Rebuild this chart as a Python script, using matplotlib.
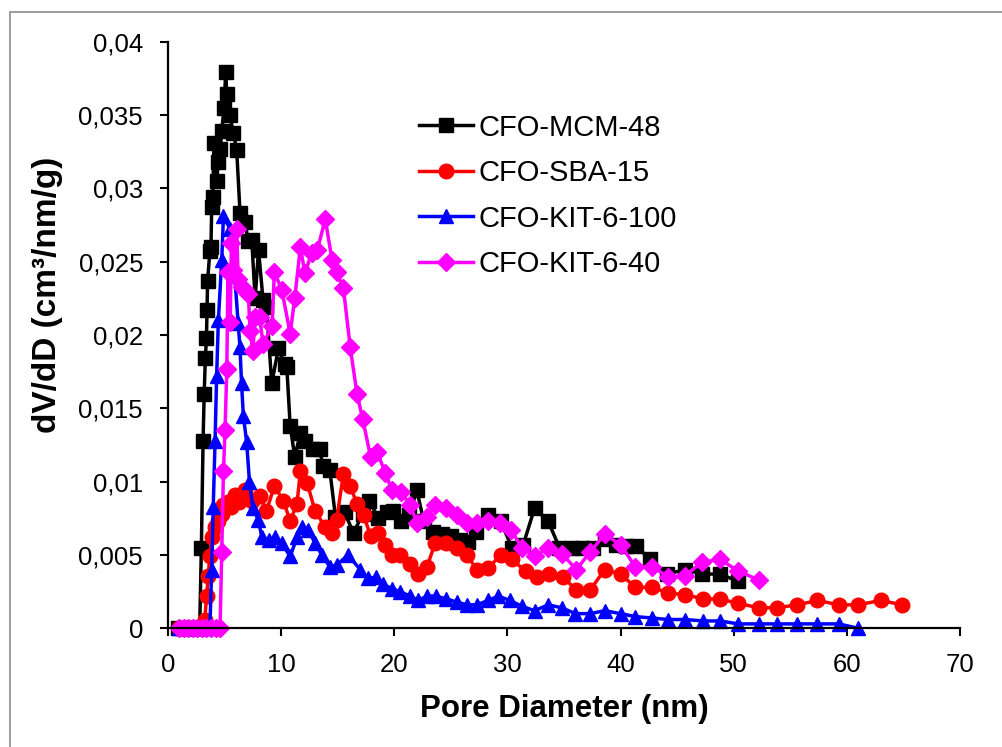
import matplotlib
matplotlib.use("Agg")
import matplotlib.pyplot as plt
from matplotlib.patches import Rectangle
from matplotlib.ticker import FuncFormatter

plt.rcParams['font.family'] = ['Liberation Sans', 'DejaVu Sans']

# ---------------- data ----------------
mcm_x = [0.9, 1.3, 1.7, 2.1, 2.5, 2.8, 2.95, 3.1, 3.2, 3.3, 3.4, 3.45, 3.5, 3.7, 3.8,
         3.86, 3.95, 4.07, 4.3, 4.45, 4.6, 4.75, 4.95, 5.1, 5.2, 5.45, 5.78, 6.07,
         6.37, 6.8, 7.1, 7.4, 7.7, 8.0, 8.4, 8.7, 9.17, 9.76, 10.3, 10.5, 10.8, 11.2,
         11.7, 12.1, 12.8, 13.4, 13.7, 14.3, 14.8, 15.6, 16.4, 17.2, 17.8, 18.6, 19.4,
         19.9, 20.6, 21.3, 22.0, 22.6, 23.4, 24.2, 25.0, 25.8, 26.5, 27.2, 28.3, 29.4,
         30.4, 31.4, 32.4, 33.6, 34.6, 35.6, 36.6, 37.6, 38.6, 39.6, 40.5, 41.4, 42.6,
         44.1, 45.7, 47.2, 48.8, 50.4]
mcm_y = [0, 0, 0, 0, 0, 0, 0.0055, 0.0128, 0.016, 0.0184, 0.0198, 0.0217, 0.0237, 0.0257, 0.026,
         0.0287, 0.0294, 0.0331, 0.0305, 0.0318, 0.0327, 0.0339, 0.0355, 0.0379, 0.0364, 0.035, 0.0338, 0.0326,
         0.0283, 0.0277, 0.0264, 0.0265, 0.0225, 0.0258, 0.0224, 0.0219, 0.0167, 0.0191, 0.018, 0.0178, 0.0138, 0.0117,
         0.0133, 0.0128, 0.0122, 0.0122, 0.0111, 0.0108, 0.0076, 0.0079, 0.0065, 0.0078, 0.0087, 0.0075, 0.0079,
         0.008, 0.0073, 0.0077, 0.0094, 0.0073, 0.0066, 0.0064, 0.0063, 0.006, 0.0059, 0.0066, 0.0077, 0.0073,
         0.0055, 0.0057, 0.0082, 0.0073, 0.0055, 0.0055, 0.0055, 0.0055, 0.0061, 0.0057, 0.0056, 0.0056, 0.0047,
         0.0037, 0.004, 0.0037, 0.0037, 0.0032]

sba_x = [1.0, 1.4, 1.8, 2.2, 2.6, 3.0, 3.25, 3.42, 3.55, 3.7, 3.86, 4.16, 4.45, 4.75, 4.9, 5.3,
         5.6, 5.9, 6.3, 6.8, 7.4, 8.1, 8.7, 9.4, 10.2, 10.8, 11.4, 11.7, 12.3, 13.0, 13.9,
         14.5, 14.9, 15.5, 16.1, 16.7, 17.3, 17.9, 18.6, 19.2, 19.8, 20.5, 21.4, 22.1, 22.9,
         23.6, 24.6, 25.5, 26.4, 27.3, 28.3, 29.4, 30.4, 31.6, 32.6, 33.7, 34.9, 36.1, 37.3,
         38.6, 40.0, 41.3, 42.8, 44.2, 45.7, 47.3, 48.8, 50.4, 52.2, 53.8, 55.6, 57.4, 59.3,
         61.0, 63.0, 64.9]
sba_y = [0, 0, 0, 0, 0, 0, 0.0006, 0.0022, 0.0036, 0.0049, 0.0062, 0.0069, 0.0073, 0.0078, 0.0084, 0.0086,
         0.0083, 0.0091, 0.0086, 0.0094, 0.0087, 0.009, 0.008, 0.0097, 0.0087, 0.0073, 0.0085, 0.0107, 0.0099, 0.008, 0.0069,
         0.0065, 0.0074, 0.0105, 0.0097, 0.0085, 0.0077, 0.0063, 0.0065, 0.0057, 0.005, 0.005, 0.0044, 0.0037, 0.0042,
         0.0058, 0.0058, 0.0055, 0.005, 0.004, 0.0041, 0.005, 0.0047, 0.0039, 0.0035, 0.0037, 0.0035, 0.0026, 0.0026,
         0.004, 0.0037, 0.0028, 0.0028, 0.0024, 0.0023, 0.002, 0.002, 0.0017, 0.0014, 0.0014, 0.0016, 0.0019, 0.0016,
         0.0016, 0.0019, 0.0016]

kit100_x = [1.0, 1.4, 1.8, 2.2, 2.6, 3.0, 3.4, 3.7, 3.86, 4.0, 4.16, 4.3, 4.45, 4.75, 4.9, 5.5,
            5.9, 6.2, 6.36, 6.5, 6.66, 6.95, 7.2, 7.5, 7.98, 8.3, 8.9, 9.5, 10.05, 10.8, 11.4,
            11.8, 12.4, 13.0, 13.6, 14.3, 14.9, 15.9, 17.0, 17.7, 18.4, 19.0, 19.8, 20.5, 21.4,
            22.1, 22.9, 23.7, 24.6, 25.5, 26.4, 27.3, 28.3, 29.2, 30.2, 31.3, 32.4, 33.6, 34.8,
            36.0, 37.3, 38.6, 40.0, 41.3, 42.8, 44.2, 45.7, 47.3, 48.8, 50.4, 52.2, 53.8, 55.6,
            57.4, 59.3, 61.0]
kit100_y = [0, 0, 0, 0, 0, 0, 0, 0, 0.004, 0.0083, 0.0128, 0.0172, 0.021, 0.0251, 0.0281, 0.0272,
            0.024, 0.0208, 0.0192, 0.0167, 0.0145, 0.0127, 0.01, 0.0082, 0.0074, 0.0062, 0.006, 0.0062, 0.0058, 0.0049, 0.0062,
            0.0069, 0.0067, 0.0058, 0.005, 0.0042, 0.0043, 0.005, 0.004, 0.0034, 0.0035, 0.003, 0.0027, 0.0025, 0.0022,
            0.0019, 0.0022, 0.0022, 0.002, 0.0018, 0.0016, 0.0016, 0.0019, 0.0022, 0.0019, 0.0015, 0.0012, 0.0016, 0.0014,
            0.001, 0.001, 0.0012, 0.001, 0.0008, 0.0007, 0.0006, 0.0006, 0.0005, 0.0005, 0.0003, 0.0003, 0.0003, 0.0003,
            0.0003, 0.0003, 0.0]

kit40_x = [1.0, 1.4, 1.8, 2.2, 2.6, 3.0, 3.4, 3.8, 4.2, 4.6, 4.75, 4.9, 5.04, 5.2, 5.3, 5.5,
           5.6, 5.78, 6.07, 6.2, 6.5, 6.8, 7.1, 7.25, 7.5, 7.7, 8.1, 8.4, 9.2, 9.4, 10.05,
           10.8, 11.2, 11.7, 12.1, 12.7, 13.2, 13.9, 14.5, 14.9, 15.5, 16.1, 16.7, 17.2, 17.9,
           18.5, 19.2, 19.8, 20.6, 21.4, 22.0, 22.9, 23.6, 24.6, 25.5, 26.4, 27.3, 28.3, 29.3,
           30.3, 31.3, 32.4, 33.6, 34.8, 36.1, 37.3, 38.6, 40.0, 41.3, 42.8, 44.2, 45.7, 47.2,
           48.8, 50.4, 52.2]
kit40_y = [0, 0, 0, 0, 0, 0, 0, 0, 0, 0, 0.0052, 0.0107, 0.0135, 0.0177, 0.0243, 0.0209,
           0.0263, 0.0244, 0.0272, 0.0238, 0.0233, 0.0231, 0.0228, 0.0203, 0.0189, 0.0212, 0.0212, 0.0194, 0.0206, 0.0243, 0.0231,
           0.0201, 0.0225, 0.026, 0.0242, 0.0256, 0.0258, 0.0279, 0.0251, 0.0243, 0.0232, 0.0192, 0.016, 0.0143, 0.0117,
           0.012, 0.0106, 0.0094, 0.0093, 0.0084, 0.0072, 0.0076, 0.0084, 0.0082, 0.0077, 0.0072, 0.0072, 0.0073, 0.0072,
           0.0067, 0.0055, 0.0049, 0.0055, 0.0051, 0.004, 0.0052, 0.0064, 0.0057, 0.0042, 0.0042, 0.0035, 0.0036, 0.0045,
           0.0047, 0.0039, 0.0033]

series = [
    ("CFO-MCM-48", mcm_x, mcm_y, "#000000", "s", 9.5),
    ("CFO-SBA-15", sba_x, sba_y, "#FF0000", "o", 10.5),
    ("CFO-KIT-6-100", kit100_x, kit100_y, "#0000FF", "^", 10),
    ("CFO-KIT-6-40", kit40_x, kit40_y, "#FF00FF", "D", 9.5),
]

x_ticks = [0, 10, 20, 30, 40, 50, 60, 70]
y_ticks = [0, 0.005, 0.01, 0.015, 0.02, 0.025, 0.03, 0.035, 0.04]

# ---------------- figure ----------------
W, H = 1002, 747
fig = plt.figure(figsize=(W / 100, H / 100), dpi=100)
fig.patch.set_facecolor("white")

# chart area border (gray)
fig.patches.append(Rectangle((10 / W, 0 - 0.05), 1.1, 1 - 12 / H + 0.05,
                             transform=fig.transFigure, fill=False,
                             edgecolor="#8c8c8c", linewidth=1.2))

ax = fig.add_axes([168 / W, 1 - 628.3 / H, (960 - 168) / W, (628.3 - 41.7) / H])

for label, xs, ys, col, mk, ms in series:
    ax.plot(xs, ys, color=col, marker=mk, markersize=ms, linewidth=2.5,
            markeredgecolor=col, markerfacecolor=col, label=label, clip_on=False)

ax.set_xlim(0, 70)
ax.set_ylim(0, 0.04)
ax.set_xticks(x_ticks)
ax.set_yticks(y_ticks)
ax.yaxis.set_major_formatter(FuncFormatter(
    lambda v, p: "0" if abs(v) < 1e-12 else ("%g" % v).replace(".", ",")))

for s in ["top", "right"]:
    ax.spines[s].set_visible(False)
for s in ["left", "bottom"]:
    ax.spines[s].set_linewidth(1.6)
    ax.spines[s].set_color("black")

ax.tick_params(axis="both", direction="out", length=6, width=1.5, labelsize=18.5, colors="black")
ax.tick_params(axis="y", pad=12)
ax.tick_params(axis="x", pad=12)

ax.set_xlabel("Pore Diameter (nm)", fontsize=22.5, fontweight="bold", labelpad=12)
ax.set_ylabel("dV/dD (cm³/nm/g)", fontsize=24, fontweight="bold")
ax.yaxis.set_label_coords(-(168 - 63) / (960 - 168), (628.3 - 295) / (628.3 - 41.7))

leg = ax.legend(loc="upper left", bbox_to_anchor=((407 - 168) / (960 - 168), (628.3 - 102) / (628.3 - 41.7)),
                frameon=False, fontsize=21, handlelength=1.85, handletextpad=0.2,
                labelspacing=0.6, borderaxespad=0)

fig.savefig("out.png", dpi=100)
